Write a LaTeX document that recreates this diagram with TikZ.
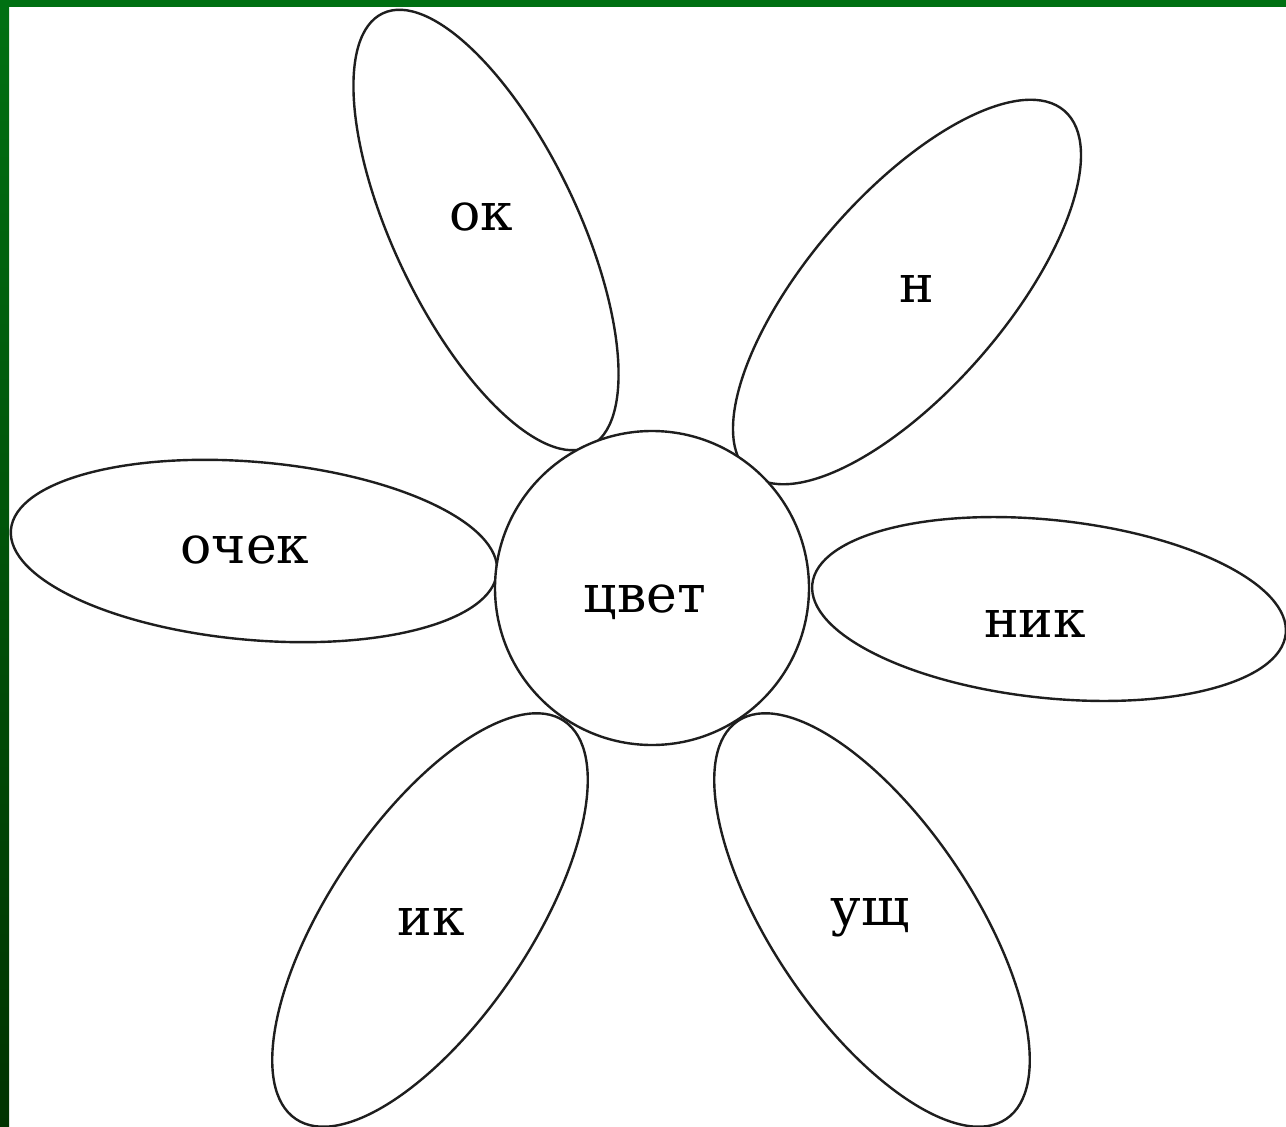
\documentclass[tikz,border=0pt]{standalone}
\usepackage{fontspec}
\setmainfont{DejaVu Serif}
\usetikzlibrary{shapes.geometric}
\definecolor{framegreen}{HTML}{007012}
\definecolor{framedark}{HTML}{003300}
\definecolor{inkgray}{HTML}{1E1E1E}
\tikzset{
  petal/.style={ellipse, draw=inkgray, line width=2.4pt, fill=white, inner sep=0pt, outer sep=0pt},
  centre/.style={circle, draw=inkgray, line width=2.4pt, fill=white, inner sep=0pt, outer sep=0pt, minimum size=314pt},
  word/.style={font=\fontsize{52}{60}\selectfont, text=black, inner sep=0pt, anchor=base}
}
\begin{document}
\begin{tikzpicture}[x=1pt,y=-1pt]
\useasboundingbox (0,0) rectangle (1286,1127);
\fill[white] (0,0) rectangle (1286,1127);
% petals
\node[petal, minimum width=480pt, minimum height=184pt, rotate=-64.5] (p1) at (486,230) {};
\node[petal, minimum width=480pt, minimum height=196pt, rotate=49] (p2) at (907,292) {};
\node[petal, minimum width=488pt, minimum height=178pt, rotate=-5] (p3) at (254,551) {};
\node[petal, minimum width=476pt, minimum height=178pt, rotate=-6] (p4) at (1049,609) {};
\node[petal, minimum width=480pt, minimum height=200pt, rotate=56] (p5) at (430,920) {};
\node[petal, minimum width=480pt, minimum height=200pt, rotate=-56] (p6) at (872,920) {};
% centre
\node[centre] (c) at (652,588) {};
% words
\node[word] (t0) at (645,612) {цвет};
\node[word] (t1) at (481,230) {ок};
\node[word] (t2) at (917,302) {н};
\node[word] (t3) at (245,563) {очек};
\node[word] (t4) at (1035,637) {ник};
\node[word] (t5) at (431,935) {ик};
\node[word] (t6) at (870,925) {ущ};
% frame
\shade[top color=framegreen, bottom color=framedark] (0,0) rectangle (9,1127);
\fill[framegreen] (0,0) rectangle (1286,7);
\end{tikzpicture}
\end{document}
